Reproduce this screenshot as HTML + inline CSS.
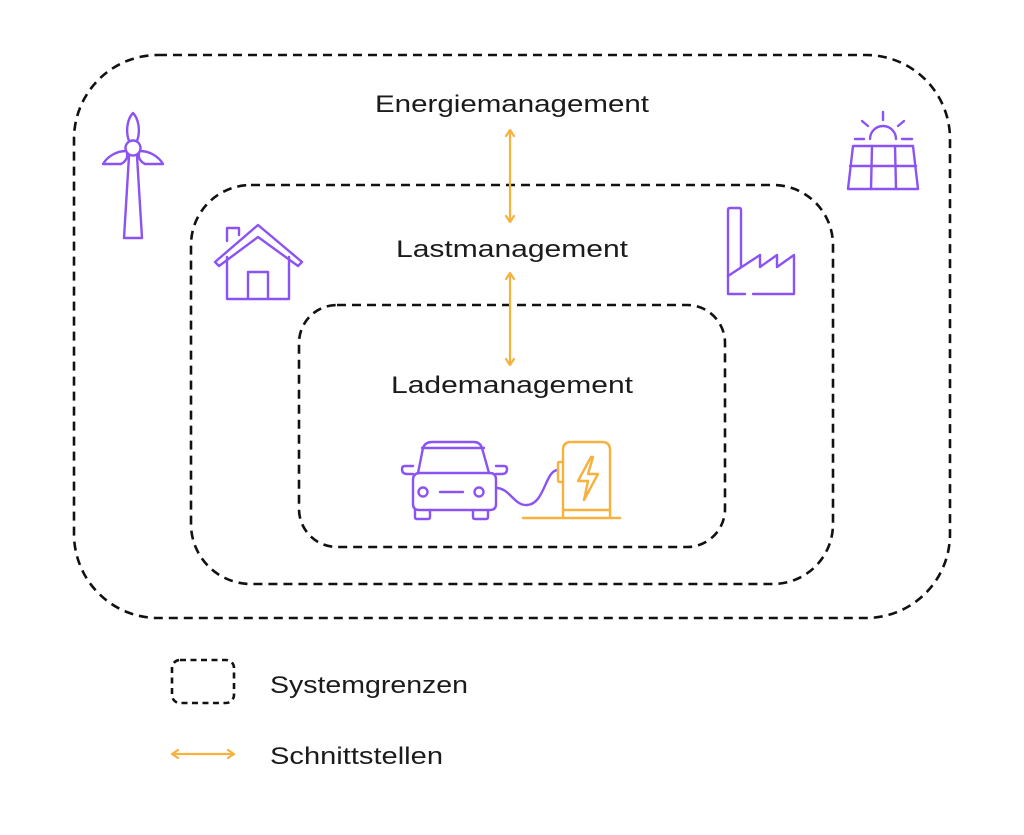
<!DOCTYPE html>
<html><head><meta charset="utf-8"><style>
html,body{margin:0;padding:0;background:#fff;}
svg{display:block;}
text{font-family:"Liberation Sans",sans-serif;fill:#1b1b1b;}
</style></head><body>
<svg width="1024" height="835" viewBox="0 0 1024 835" xmlns="http://www.w3.org/2000/svg">
<rect width="1024" height="835" fill="#fff"/>
<g fill="none" stroke="#111" stroke-width="2.6" stroke-dasharray="9 6">
<rect x="74" y="55" width="876" height="563" rx="84" ry="84"/>
<rect x="191" y="185" width="642" height="399" rx="60" ry="60"/>
<rect x="299" y="305" width="426" height="242" rx="38" ry="38"/>
<rect x="172" y="660" width="62" height="43" rx="8" ry="8" stroke-dasharray="6 4.5"/>
</g>
<g stroke="#F6B13F" stroke-width="2.2" fill="none" stroke-linecap="round" stroke-linejoin="round">
<line x1="510" y1="131" x2="510" y2="221"/>
<polyline points="506,136 510,130 514,136"/>
<polyline points="506,216 510,222 514,216"/>
<line x1="510" y1="274" x2="510" y2="364"/>
<polyline points="506,279 510,273 514,279"/>
<polyline points="506,359 510,365 514,359"/>
<line x1="173" y1="754" x2="233" y2="754"/>
<polyline points="178,750 172,754 178,758"/>
<polyline points="228,750 234,754 228,758"/>
</g>
<text x="512" y="112" font-size="24" text-anchor="middle" textLength="274" lengthAdjust="spacingAndGlyphs">Energiemanagement</text>
<text x="512" y="257" font-size="24" text-anchor="middle" textLength="232" lengthAdjust="spacingAndGlyphs">Lastmanagement</text>
<text x="512" y="393" font-size="24" text-anchor="middle" textLength="242" lengthAdjust="spacingAndGlyphs">Lademanagement</text>
<text x="270" y="693" font-size="24" textLength="198" lengthAdjust="spacingAndGlyphs">Systemgrenzen</text>
<text x="270" y="764" font-size="24" textLength="173" lengthAdjust="spacingAndGlyphs">Schnittstellen</text>
<g stroke="#8B52F4" stroke-width="2.4" fill="none" stroke-linejoin="round" stroke-linecap="round">
<!-- wind turbine -->
<circle cx="133" cy="148" r="7.5"/>
<path d="M129,141 C125,130 128,118 133,113 C138,118 141,130 137,141"/>
<path d="M126,151 C116,151 107,157 103,164 L121,164 C125,162 128,158 127,154"/>
<path d="M140,151 C150,151 159,157 163,164 L145,164 C141,162 138,158 139,154"/>
<path d="M129,156 L124,238 L142,238 L137,156"/>
<!-- house -->
<path d="M227,241 L227,228 L239,228 L239,235"/>
<path d="M215,262 L258,225 L302,262 L298,266 L258,237 L219,266 Z"/>
<path d="M227,257 L227,299 L289,299 L289,257"/>
<path d="M248,299 L248,272 L268,272 L268,299"/>
<!-- factory -->
<path d="M745,294 L728,294 L728,210 Q728,208 730,208 L739,208 Q741,208 741,210 L741,267"/>
<path d="M753,294 L794,294 L794,255 L777,267 L777,255 L760,267 L760,255 L728,276"/>
<!-- solar panel -->
<path d="M853,146 L913,146 L918,189 L848,189 Z"/>
<line x1="850" y1="166" x2="916" y2="166"/>
<line x1="872" y1="146" x2="871" y2="189"/>
<line x1="895" y1="146" x2="896" y2="189"/>
<path d="M870,139 A13,13 0 0 1 896,139"/>
<line x1="855" y1="139" x2="864" y2="139"/>
<line x1="902" y1="139" x2="912" y2="139"/>
<line x1="883" y1="112" x2="883" y2="120"/>
<line x1="862" y1="121" x2="868" y2="126"/>
<line x1="904" y1="121" x2="898" y2="126"/>
<!-- car -->
<path d="M418,473 L423,448 Q425,442 432,442 L474,442 Q480,442 482,448 L489,473"/>
<line x1="422" y1="448" x2="484" y2="448"/>
<path d="M420,473 L490,473 Q496,473 496,480 L496,504 Q496,510 490,510 L419,510 Q413,510 413,504 L413,480 Q413,473 420,473 Z"/>
<path d="M413,466 L405,466 Q402,466 402,469 Q402,474 407,474 L413,474"/>
<path d="M496,466 L504,466 Q507,466 507,469 Q507,474 502,474 L496,474"/>
<circle cx="423" cy="492" r="4.5"/>
<circle cx="479" cy="492" r="4.5"/>
<line x1="440" y1="492" x2="463" y2="492"/>
<path d="M415,510 L415,517 Q415,519 417,519 L428,519 Q430,519 430,517 L430,510"/>
<path d="M473,510 L473,517 Q473,519 475,519 L486,519 Q488,519 488,517 L488,510"/>
<path d="M496,488 C510,488 514,506 527,505 C545,504 545,470 558,470"/>
</g>
<g stroke="#F6B13F" stroke-width="2.4" fill="none" stroke-linejoin="round" stroke-linecap="round">
<path d="M563,518 L563,450 Q563,442 571,442 L602,442 Q610,442 610,450 L610,518"/>
<line x1="563" y1="510" x2="610" y2="510"/>
<line x1="523" y1="518" x2="620" y2="518"/>
<path d="M563,462 L559,462 Q558,462 558,464 L558,480 Q558,482 560,482 L563,482"/>
<path d="M591,457 L578,481 L588,481 L584,500 L598,474 L588,474 L593,457 Z"/>
</g>
</svg>
</body></html>
